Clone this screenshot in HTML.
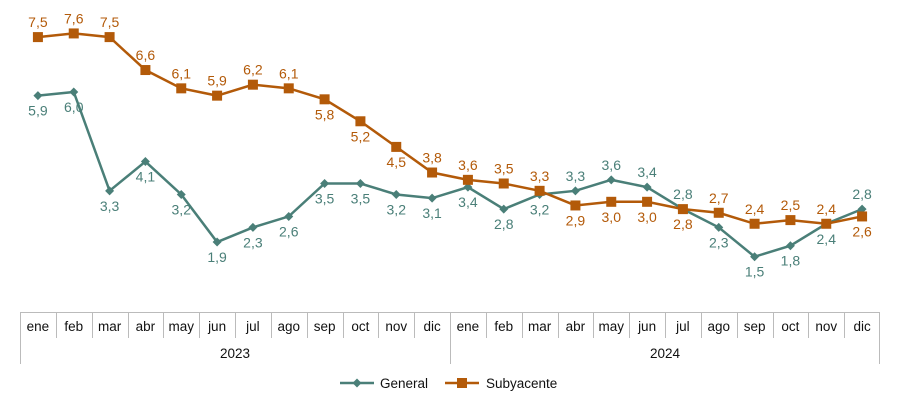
<!DOCTYPE html>
<html><head><meta charset="utf-8"><style>
body{margin:0;background:#fff}
svg{display:block;font-family:"Liberation Sans",Arial,sans-serif}
</style></head><body>
<svg id="chart" width="900" height="409"></svg>
<script>
const months=["ene","feb","mar","abr","may","jun","jul","ago","sep","oct","nov","dic","ene","feb","mar","abr","may","jun","jul","ago","sep","oct","nov","dic"];
const years=["2023","2024"];
const general=[5.9,6.0,3.3,4.1,3.2,1.9,2.3,2.6,3.5,3.5,3.2,3.1,3.4,2.8,3.2,3.3,3.6,3.4,2.8,2.3,1.5,1.8,2.4,2.8];
const subyacente=[7.5,7.6,7.5,6.6,6.1,5.9,6.2,6.1,5.8,5.2,4.5,3.8,3.6,3.5,3.3,2.9,3.0,3.0,2.8,2.7,2.4,2.5,2.4,2.6];
const genPos="bbbbbbbbbbbbbbbaaaabbbba";
const subPos="aaaaaaaabbbaaaabbbbaaaab";
const svg=document.getElementById('chart');
const NS="http://www.w3.org/2000/svg";
const L=20,R=880,cw=(R-L)/months.length;
const x=i=>L+cw*(i+0.5);
const y=v=>311.6-36.6*v;
function mk(t,a,p){const e=document.createElementNS(NS,t);for(const k in a)e.setAttribute(k,a[k]);(p||svg).appendChild(e);return e;}
const grid=mk('g',{stroke:'#bbb','stroke-width':1,fill:'none'});


mk('line',{x1:L,y1:312.5,x2:R,y2:312.5},grid);
mk('line',{x1:L+0.5,y1:312,x2:L+0.5,y2:364},grid);
for(let i=1;i<months.length;i++){const xx=Math.round(L+cw*i)+0.5;mk('line',{x1:xx,y1:312,x2:xx,y2:i==12?364:338},grid);}
mk('line',{x1:R-0.5,y1:312,x2:R-0.5,y2:364},grid);
months.forEach((m,i)=>{const t=mk('text',{x:x(i),y:331,'text-anchor':'middle','font-size':13.5,fill:'#111'});t.textContent=m;

});
years.forEach((yr,j)=>{const t=mk('text',{x:L+cw*12*(j+0.5),y:358,'text-anchor':'middle','font-size':13.5,fill:'#111'});t.textContent=yr;

});
function series(data,pos,color,name,shape){
 const g=mk('g',{});
 
 
 mk('polyline',{points:data.map((v,i)=>x(i)+','+y(v)).join(' '),fill:'none',stroke:color,'stroke-width':2.5},g);
 data.forEach((v,i)=>{let m;
  if(shape=='sq')m=mk('rect',{x:x(i)-5,y:y(v)-5,width:10,height:10,fill:color},g);
  else m=mk('path',{d:`M${x(i)-4.5},${y(v)}L${x(i)},${y(v)-4.5}L${x(i)+4.5},${y(v)}L${x(i)},${y(v)+4.5}Z`,fill:color},g);
  
  
  const t=mk('text',{x:x(i),y:pos[i]=='a'?y(v)-10:y(v)+20,'text-anchor':'middle','font-size':14,fill:color},g);
  t.textContent=v.toFixed(1).replace('.',',');
  
  
 });
}
series(general,genPos,'#4a7f78','general','dia');
series(subyacente,subPos,'#b35a09','subyacente','sq');
const lg=mk('g',{});


mk('line',{x1:340,y1:383,x2:374,y2:383,stroke:'#4a7f78','stroke-width':2.5},lg);
mk('path',{d:'M352.5,383L357,378.5L361.5,383L357,387.5Z',fill:'#4a7f78'},lg);
let t=mk('text',{x:380,y:388,'font-size':13.5,fill:'#111'},lg);t.textContent='General';
mk('line',{x1:445,y1:383,x2:479,y2:383,stroke:'#b35a09','stroke-width':2.5},lg);
mk('rect',{x:457,y:378,width:10,height:10,fill:'#b35a09'},lg);
t=mk('text',{x:486,y:388,'font-size':13.5,fill:'#111'},lg);t.textContent='Subyacente';
</script>
</body></html>
